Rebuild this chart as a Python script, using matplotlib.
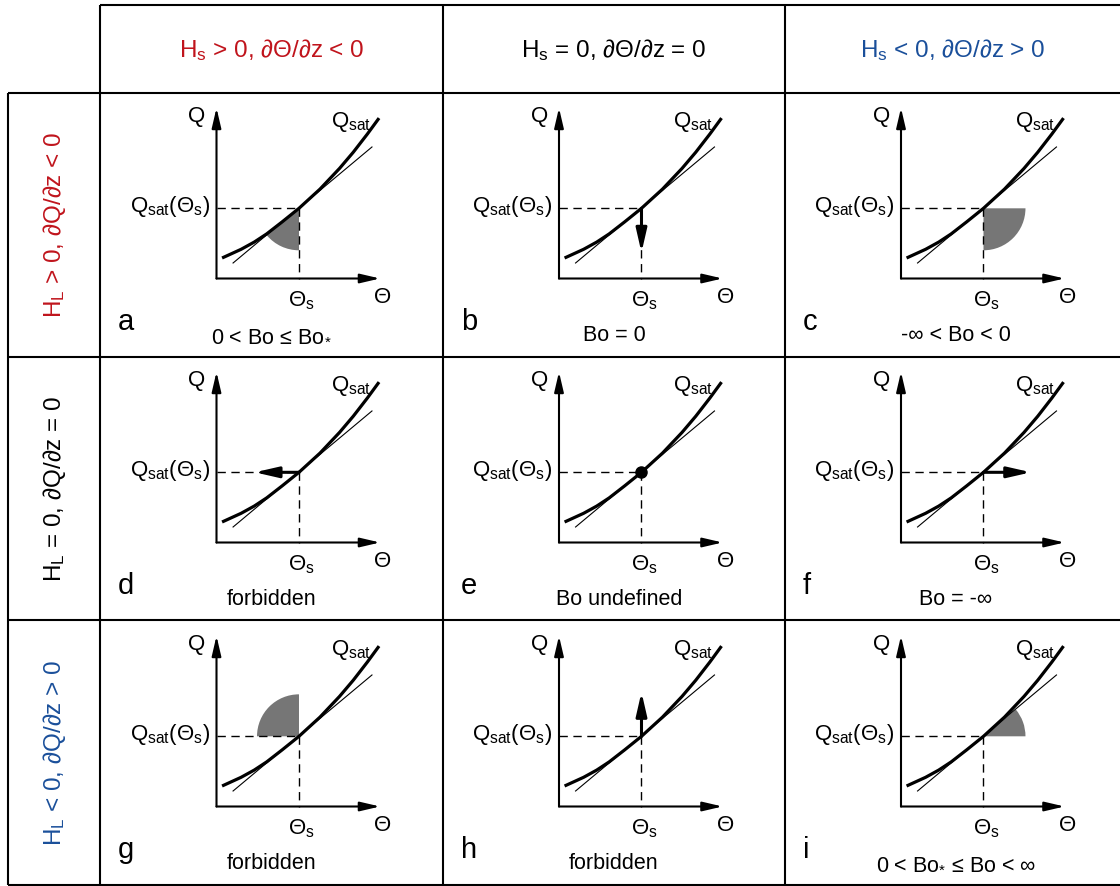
import numpy as np
import matplotlib
matplotlib.use("Agg")
import matplotlib.pyplot as plt
from matplotlib.patches import Wedge

plt.rcParams['font.family'] = ['Liberation Sans', 'DejaVu Sans']
plt.rcParams['mathtext.fontset'] = 'custom'
plt.rcParams['mathtext.rm'] = 'Liberation Sans'
plt.rcParams['mathtext.it'] = 'Liberation Sans:italic'

# Qsat curve and its tangent at Theta_s (axis units)
curve_theta = [0.034, 0.15, 0.23, 0.306, 0.40, 0.503, 0.631, 0.75, 0.834, 0.92, 0.991]
curve_q = [0.125, 0.178, 0.222, 0.272, 0.345, 0.428, 0.545, 0.671, 0.770, 0.881, 0.978]
tangent_theta = [0.101, 0.948]
tangent_q = [0.0945, 0.802]
theta_s = 0.503
q_s = 0.428

col_headers = ['H$_\\mathregular{s}$ > 0, ∂Θ/∂z < 0',
               'H$_\\mathregular{s}$ = 0, ∂Θ/∂z = 0',
               'H$_\\mathregular{s}$ < 0, ∂Θ/∂z > 0']
row_headers = ['H$_\\mathregular{L}$ > 0, ∂Q/∂z < 0',
               'H$_\\mathregular{L}$ = 0, ∂Q/∂z = 0',
               'H$_\\mathregular{L}$ < 0, ∂Q/∂z > 0']
header_colors = ['#c0141c', 'black', '#1a4f9a']

letters = ['a', 'b', 'c', 'd', 'e', 'f', 'g', 'h', 'i']
captions = ['0 < Bo ≤ Bo$_\\mathregular{*}$', 'Bo = 0', '-∞ < Bo < 0',
            'forbidden', 'Bo undefined', 'Bo = -∞',
            'forbidden', 'forbidden', '0 < Bo$_\\mathregular{*}$ ≤ Bo < ∞']
# what is drawn at the Theta_s point of each panel
markers = ['wedge', 'arrow', 'wedge',
           'arrow', 'dot', 'arrow',
           'wedge', 'arrow', 'wedge']
tan_deg = np.degrees(np.arctan2(tangent_q[1] - tangent_q[0], tangent_theta[1] - tangent_theta[0]))
wedge_angles = {0: (180 + tan_deg, 270), 2: (270, 360), 6: (90, 180), 8: (0, tan_deg)}
arrow_dirs = {1: (0, -0.27), 3: (-0.27, 0), 5: (0.29, 0), 7: (0, 0.27)}

W, H = 1120, 886
col_edges = [100, 443, 785, 1120]
row_edges = [93, 357, 620, 886]
col_origin = [216.5, 559, 901]
row_origin = [278.5, 542.5, 806.5]
scale = 164.0

fig = plt.figure(figsize=(11.2, 8.86), dpi=100)
bg = fig.add_axes([0, 0, 1, 1])
bg.set_xlim(0, W)
bg.set_ylim(H, 0)
bg.axis('off')

# table lines
lk = dict(color='black', lw=1.5, solid_capstyle='butt')
bg.plot([100, W], [5, 5], **lk)
for y in row_edges[:3]:
    bg.plot([8, W], [y, y], **lk)
bg.plot([8, W], [885, 885], **lk)
bg.plot([8, 8], [93, 885], **lk)
for x in col_edges[:3]:
    bg.plot([x, x], [5, 885], **lk)

for c in range(3):
    bg.text((col_edges[c] + col_edges[c + 1]) / 2, 57, col_headers[c], ha='center',
            va='baseline', fontsize=17.5, color=header_colors[c])
for r in range(3):
    bg.text(61, (row_edges[r] + row_edges[r + 1]) / 2, row_headers[r], rotation=90,
            rotation_mode='anchor', ha='center', va='baseline', fontsize=17.5,
            color=header_colors[r])

axis_arrow = dict(arrowstyle='-|>,head_length=0.6,head_width=0.14', mutation_scale=20,
                  lw=1.5, color='black', shrinkA=0, shrinkB=0)
bold_arrow = dict(arrowstyle='-|>,head_length=0.7,head_width=0.16', mutation_scale=20,
                  lw=2.2, color='black', shrinkA=0, shrinkB=0)

for r in range(3):
    for c in range(3):
        k = r * 3 + c
        x0, x1 = col_edges[c], col_edges[c + 1]
        y0, y1 = row_edges[r], row_edges[r + 1]
        ox, oy = col_origin[c], row_origin[r]
        ax = fig.add_axes([x0 / W, 1 - y1 / H, (x1 - x0) / W, (y1 - y0) / H])
        ax.set_xlim((x0 - ox) / scale, (x1 - ox) / scale)
        ax.set_ylim((oy - y1) / scale, (oy - y0) / scale)
        ax.axis('off')
        ax.patch.set_alpha(0)

        if markers[k] == 'wedge':
            t1, t2 = wedge_angles[k]
            ax.add_patch(Wedge((theta_s, q_s), 0.256, t1, t2, color='#767676', lw=0, zorder=1))

        ax.annotate('', xy=(0, 1.04), xytext=(0, 0), arrowprops=axis_arrow)
        ax.annotate('', xy=(0.997, 0), xytext=(0, 0), arrowprops=axis_arrow)
        ax.plot([0, theta_s], [q_s, q_s], color='black', lw=1.0, dashes=(6, 4), zorder=2)
        ax.plot([theta_s, theta_s], [q_s, 0], color='black', lw=1.0, dashes=(6, 4), zorder=2)
        ax.plot(tangent_theta, tangent_q, color='black', lw=0.8, zorder=3)
        ax.plot(curve_theta, curve_q, color='black', lw=2.3, zorder=4,
                solid_capstyle='butt', solid_joinstyle='round')

        if markers[k] == 'arrow':
            dx, dy = arrow_dirs[k]
            ax.annotate('', xy=(theta_s + dx, q_s + dy), xytext=(theta_s, q_s),
                        arrowprops=bold_arrow, zorder=5)
        elif markers[k] == 'dot':
            ax.plot(theta_s, q_s, 'o', ms=8, color='black', zorder=5)

        ax.text(-0.121, 0.956, 'Q', ha='center', va='baseline', fontsize=16)
        ax.text(0.698, 0.926, 'Q$_\\mathregular{sat}$', ha='left', va='baseline', fontsize=16)
        ax.text(-0.04, q_s - 0.025, 'Q$_\\mathregular{sat}$(Θ$_\\mathregular{s}$)',
                ha='right', va='baseline', fontsize=16)
        ax.text(theta_s + 0.015, -0.172, 'Θ$_\\mathregular{s}$', ha='center', va='baseline', fontsize=16)
        ax.text(1.015, -0.151, 'Θ', ha='center', va='baseline', fontsize=16)
        ax.text(-0.60, -0.314, letters[k], ha='left', va='baseline', fontsize=21)
        ax.text(0.37 if k == 4 else 0.335, -0.38, captions[k], ha='center', va='baseline',
                fontsize=15.5)

fig.savefig('out.png', dpi=100)
